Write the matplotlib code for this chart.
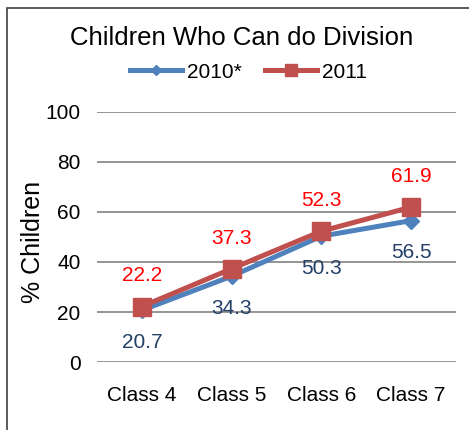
import matplotlib.pyplot as plt
from matplotlib.patches import Rectangle

plt.rcParams['font.family'] = ['Liberation Sans', 'DejaVu Sans']

classes = ['Class 4', 'Class 5', 'Class 6', 'Class 7']
y2010 = [20.7, 34.3, 50.3, 56.5]
y2011 = [22.2, 37.3, 52.3, 61.9]
yticks = [0, 20, 40, 60, 80, 100]

blue = '#4F81BD'
red = '#C0504D'

fig = plt.figure(figsize=(4.69, 4.30), dpi=100)
ax = fig.add_axes([0.207, 0.158, 0.765, 0.582])

x = range(len(classes))
ax.plot(x, y2010, color=blue, lw=3.6, marker='D', ms=8.5, label='2010*', zorder=3)
ax.plot(x, y2011, color=red, lw=3.6, marker='s', ms=13, label='2011', zorder=4)

for i, v in enumerate(y2010):
    ax.annotate(f'{v}', (i, v), xytext=(0, -23), textcoords='offset points',
                ha='center', va='center', fontsize=15, color='#243F66')
for i, v in enumerate(y2011):
    ax.annotate(f'{v}', (i, v), xytext=(0, 22), textcoords='offset points',
                ha='center', va='center', fontsize=15, color='#FF0000')

ax.set_xlim(-0.5, 3.5)
ax.set_ylim(0, 100)
ax.set_yticks(yticks)
ax.set_xticks(list(x))
ax.set_xticklabels(classes)
ax.tick_params(length=0, labelsize=15)
ax.tick_params(axis='x', pad=17)
ax.tick_params(axis='y', pad=12)
ax.yaxis.grid(True, color='#8C8C8C', lw=1.3)
ax.set_axisbelow(True)
for s in ax.spines.values():
    s.set_visible(False)
ax.set_ylabel('% Children', fontsize=18)
ax.yaxis.set_label_coords(-0.145, 0.48)

fig.text(0.515, 0.912, 'Children Who Can do Division', ha='center', va='center', fontsize=18.5)
fig.legend(loc='center', bbox_to_anchor=(0.53, 0.832), ncol=2, frameon=False,
           fontsize=15, handlelength=2.5, columnspacing=1.1, handletextpad=0.25,
           markerscale=0.65)

fig.add_artist(Rectangle((7 / 469, -0.1), 1.2, 1 - 8 / 430 + 0.1, transform=fig.transFigure,
                         fill=False, edgecolor='#404040', lw=1.2))

fig.savefig('out.png', dpi=100)
